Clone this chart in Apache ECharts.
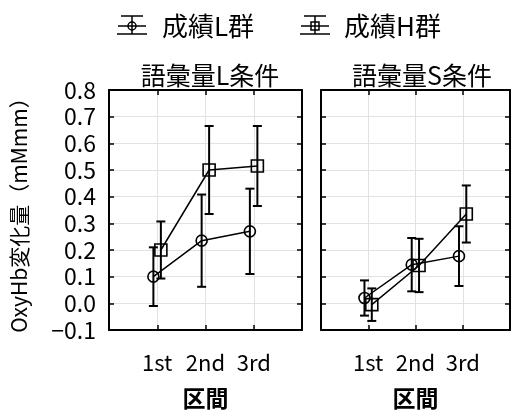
<!DOCTYPE html>
<html><head><meta charset="utf-8">
<script src="https://cdn.jsdelivr.net/npm/echarts@6/dist/echarts.min.js"></script>
<style>html,body{margin:0;padding:0;background:#fff}#c{width:513px;height:415px}</style>
</head><body><div id="c"></div>
<script>
// Sections on the x axis and panel / group names
const sections = ['1st', '2nd', '3rd'];
const panelTitles = ['語彙量L条件', '語彙量S条件'];
const groupNames = ['成績L群', '成績H群'];
const yTickLabels = ['−0.1', '0.0', '0.1', '0.2', '0.3', '0.4', '0.5', '0.6', '0.7', '0.8'];

// 語彙量L条件: means and error half-widths
const lowMeanVocabL = [0.10, 0.235, 0.27];
const lowErrVocabL = [0.11, 0.173, 0.16];
const highMeanVocabL = [0.20, 0.50, 0.515];
const highErrVocabL = [0.107, 0.165, 0.15];
// 語彙量S条件
const lowMeanVocabS = [0.02, 0.145, 0.177];
const lowErrVocabS = [0.066, 0.10, 0.112];
const highMeanVocabS = [-0.005, 0.142, 0.335];
const highErrVocabS = [0.061, 0.10, 0.107];

// small horizontal dodge so the two groups do not overlap
const dodge = [-0.08, 0.075];

const FONT = '"Noto Sans CJK JP", "Noto Sans", sans-serif';
const chart = echarts.init(document.getElementById('c'), null, { renderer: 'canvas' });

const panels = [
  { low: [lowMeanVocabL, lowErrVocabL], high: [highMeanVocabL, highErrVocabL] },
  { low: [lowMeanVocabS, lowErrVocabS], high: [highMeanVocabS, highErrVocabS] }
];
const gridLeft = [109, 321];

function points(mean, g) { return mean.map((m, i) => [i + 1 + dodge[g], m]); }
function bars(mean, err, g) { return mean.map((m, i) => [i + 1 + dodge[g], m - err[i], m + err[i]]); }

function errRender(params, api) {
  const x = api.value(0);
  const a = api.coord([x, api.value(1)]);
  const b = api.coord([x, api.value(2)]);
  const w = 4.5;
  const st = { stroke: '#000', lineWidth: 2 };
  return {
    type: 'group', children: [
      { type: 'line', shape: { x1: a[0], y1: a[1], x2: b[0], y2: b[1] }, style: st },
      { type: 'line', shape: { x1: a[0] - w, y1: a[1], x2: a[0] + w, y2: a[1] }, style: st },
      { type: 'line', shape: { x1: b[0] - w, y1: b[1], x2: b[0] + w, y2: b[1] }, style: st }
    ]
  };
}

const grid = [], xAxis = [], yAxis = [], series = [], title = [];
const axisLine = { show: true, onZero: false, lineStyle: { color: '#000', width: 2 } };
const tick = { show: true, inside: true, length: 5, lineStyle: { color: '#000', width: 1.5 } };

panels.forEach((p, k) => {
  grid.push({ left: gridLeft[k], top: 90, width: 193, height: 247 });
  title.push({
    text: panelTitles[k], left: gridLeft[k] + 96, top: 58, textAlign: 'center',
    textStyle: { fontFamily: FONT, fontSize: 25, fontWeight: 'normal', color: '#000' }
  });
  // bottom and top x axes
  xAxis.push({
    type: 'value', gridIndex: k, min: 0, max: 4, interval: 1, position: 'bottom',
    axisLine, axisTick: tick,
    axisLabel: { formatter: v => sections[v - 1] || '', fontFamily: FONT, fontSize: 22, color: '#000', margin: 22 },
    splitLine: { show: true, lineStyle: { color: '#e2e2e2', width: 1 } },
    name: '区間', nameLocation: 'middle', nameGap: 57,
    nameTextStyle: { fontFamily: FONT, fontSize: 23, fontWeight: 'bold', color: '#000' }
  });
  xAxis.push({
    type: 'value', gridIndex: k, min: 0, max: 4, interval: 1, position: 'top',
    axisLine, axisTick: tick, axisLabel: { show: false }, splitLine: { show: false }
  });
  // left and right y axes
  yAxis.push({
    type: 'value', gridIndex: k, min: -0.1, max: 0.8, interval: 0.1, position: 'left',
    axisLine, axisTick: tick,
    axisLabel: {
      show: k === 0, margin: 13, fontFamily: FONT, fontSize: 23, color: '#000',
      formatter: v => yTickLabels[Math.round(v * 10) + 1]
    },
    splitLine: { show: true, lineStyle: { color: '#e2e2e2', width: 1 } },
    name: k === 0 ? 'OxyHb変化量（mMmm）' : '', nameLocation: 'middle', nameGap: 79, nameRotate: 90,
    nameTextStyle: { fontFamily: FONT, fontSize: 21, color: '#000' }
  });
  yAxis.push({
    type: 'value', gridIndex: k, min: -0.1, max: 0.8, interval: 0.1, position: 'right',
    axisLine, axisTick: tick, axisLabel: { show: false }, splitLine: { show: false }
  });

  const xi = k * 2, yi = k * 2;
  [['low', 'circle', 11], ['high', 'rect', 12]].forEach(([key, sym, size], g) => {
    const [mean, err] = p[key];
    series.push({
      type: 'custom', name: groupNames[g], xAxisIndex: xi, yAxisIndex: yi,
      renderItem: errRender, data: bars(mean, err, g), z: 3
    });
    series.push({
      type: 'line', name: groupNames[g], xAxisIndex: xi, yAxisIndex: yi,
      data: points(mean, g), symbol: sym, symbolSize: size, showSymbol: true,
      lineStyle: { color: '#000', width: 1.5 },
      itemStyle: { color: 'rgba(0,0,0,0)', borderColor: '#000', borderWidth: 1.6 },
      z: 4, animation: false
    });
  });
});

// legend drawn as small error-bar glyphs beside the group names
function legendIcon(x, marker) {
  const st = { stroke: '#000', lineWidth: 1.5, fill: null };
  const cx = x + 15;
  const children = [
    { type: 'line', shape: { x1: x + 4, y1: 16, x2: x + 26, y2: 16 }, style: st },
    { type: 'line', shape: { x1: x + 1, y1: 26, x2: x + 29, y2: 26 }, style: st },
    { type: 'line', shape: { x1: x, y1: 34, x2: x + 30, y2: 34 }, style: st },
    { type: 'line', shape: { x1: cx, y1: 16, x2: cx, y2: 34 }, style: st }
  ];
  children.push(marker === 'circle'
    ? { type: 'circle', shape: { cx, cy: 26, r: 4 }, style: st }
    : { type: 'rect', shape: { x: cx - 4, y: 22, width: 8, height: 8 }, style: st });
  return { type: 'group', children };
}
const legendTextStyle = { fontFamily: FONT, fontSize: 26, fill: '#000' };

chart.setOption({
  animation: false,
  backgroundColor: '#fff',
  title, grid, xAxis, yAxis, series,
  graphic: [
    legendIcon(117, 'circle'),
    { type: 'text', left: 162, top: 13, style: Object.assign({ text: groupNames[0] }, legendTextStyle) },
    legendIcon(300, 'rect'),
    { type: 'text', left: 344, top: 13, style: Object.assign({ text: groupNames[1] }, legendTextStyle) }
  ]
});
</script>
</body></html>
